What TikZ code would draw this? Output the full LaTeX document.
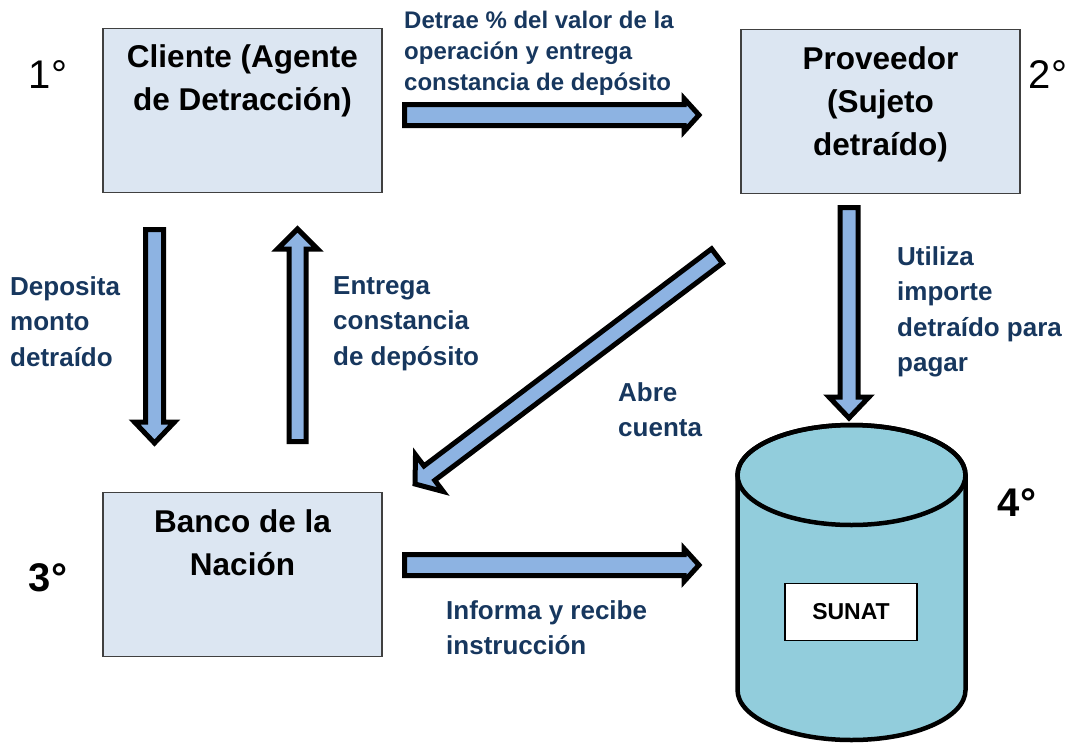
\documentclass[tikz,border=0pt]{standalone}
\usepackage{fontspec}
\setmainfont{Liberation Sans}
\usetikzlibrary{calc, positioning}
\definecolor{boxfill}{RGB}{220,230,242}
\definecolor{arrowfill}{RGB}{141,179,226}
\definecolor{drumfill}{RGB}{146,205,220}
\definecolor{labelblue}{RGB}{23,55,94}
\tikzset{
	party/.style={draw=black!75, line width=1.2pt, fill=boxfill, minimum width=279pt, minimum height=164pt, inner sep=0pt},
	partytext/.style={anchor=north, align=center, inner sep=0pt, font=\fontsize{31.5}{43}\selectfont\bfseries},
	flowtext/.style={anchor=north west, align=left, inner sep=0pt, text=labelblue, font=\fontsize{26}{35.5}\selectfont\bfseries},
	stepnum/.style={inner sep=0pt, font=\fontsize{40}{40}\selectfont},
	arrowbody/.style={draw=black, line width=5pt, fill=arrowfill, line join=miter}
}
% #1 tail, #2 tip, #3 half shaft, #4 half head, #5 head length
\newcommand{\flowarrow}[5]{%
	\coordinate (neck) at ($(#2)!#5!(#1)$);
	\draw[arrowbody] ($(#1)!#3!90:(#2)$) -- ($(neck)!#3!90:(#2)$) -- ($(neck)!#4!90:(#2)$)
		-- (#2) -- ($(neck)!#4!-90:(#2)$) -- ($(neck)!#3!-90:(#2)$) -- ($(#1)!#3!-90:(#2)$) -- cycle;
}

\begin{document}
\begin{tikzpicture}[x=1pt, y=-1pt]
	\useasboundingbox (0,0) rectangle (1075,744);

	% the three parties
	\node[party] (cliente)   at (242.5,110.5) {};
	\node[party] (proveedor) at (880.5,111.5) {};
	\node[party] (banco)     at (242.5,574.5) {};
	\node[partytext, below=17pt of cliente.north]   {Cliente (Agente\\de Detracción)};
	\node[partytext, below=18pt of proveedor.north] {Proveedor\\(Sujeto\\detraído)};
	\node[partytext, below=18pt of banco.north]     {Banco de la\\Nación};

	% SUNAT drum
	\filldraw[fill=drumfill, line width=4.5pt] (737.5,475) -- (737.5,690)
		arc[start angle=180, end angle=360, x radius=114pt, y radius=50pt]
		-- (965.5,475) arc[start angle=0, end angle=180, x radius=114pt, y radius=50pt] -- cycle;
	\draw[line width=4.5pt] (851.5,475) ellipse[x radius=114pt, y radius=50pt];
	\node[draw, line width=1.2pt, fill=white, minimum width=132pt, minimum height=57pt,
		font=\fontsize{23}{23}\selectfont\bfseries] (sunat) at (851,612) {SUNAT};

	% step numbers
	\node[stepnum] (n1) at (48,75)  {1°};
	\node[stepnum] (n2) at (1048,75) {2°};
	\node[stepnum, font=\fontsize{40}{40}\selectfont\bfseries] (n3) at (48,578)  {3°};
	\node[stepnum, font=\fontsize{40}{40}\selectfont\bfseries] (n4) at (1017,503) {4°};

	% arrow ends
	\coordinate (detrae tail)  at (404.5,115);
	\coordinate (detrae tip)   at (699,115);
	\coordinate (deposita tail) at (154.5,229.5);
	\coordinate (deposita tip)  at (154.5,443);
	\coordinate (entrega tail) at (297.5,441.5);
	\coordinate (entrega tip)  at (297.5,229);
	\coordinate (abre tail)    at (717,256);
	\coordinate (abre tip)     at (415,484);
	\coordinate (utiliza tail) at (849,207.5);
	\coordinate (utiliza tip)  at (849,418);
	\coordinate (informa tail) at (404.5,565);
	\coordinate (informa tip)  at (699,565);

	\flowarrow{detrae tail}{detrae tip}{10.5pt}{16.5pt}{15pt}
	\flowarrow{deposita tail}{deposita tip}{9pt}{20pt}{21pt}
	\flowarrow{entrega tail}{entrega tip}{8.5pt}{20pt}{20pt}
	\flowarrow{abre tail}{abre tip}{9pt}{23pt}{18pt}
	\flowarrow{utiliza tail}{utiliza tip}{9pt}{20pt}{21pt}
	\flowarrow{informa tail}{informa tip}{10.5pt}{16.5pt}{15pt}

	% labels on the flows
	\node[flowtext, font=\fontsize{24}{31}\selectfont\bfseries] (l detrae) at (404,11)
		{Detrae \% del valor de la\\operación y entrega\\constancia de depósito};
	\node[flowtext] (l deposita) at (10,276)  {Deposita\\monto\\detraído};
	\node[flowtext] (l entrega)  at (333,276) {Entrega\\constancia\\de depósito};
	\node[flowtext] (l utiliza)  at (897,246) {Utiliza\\importe\\detraído para\\pagar};
	\node[flowtext] (l abre)     at (618,382) {Abre\\cuenta};
	\node[flowtext] (l informa)  at (446,600) {Informa y recibe\\instrucción};
\end{tikzpicture}
\end{document}
